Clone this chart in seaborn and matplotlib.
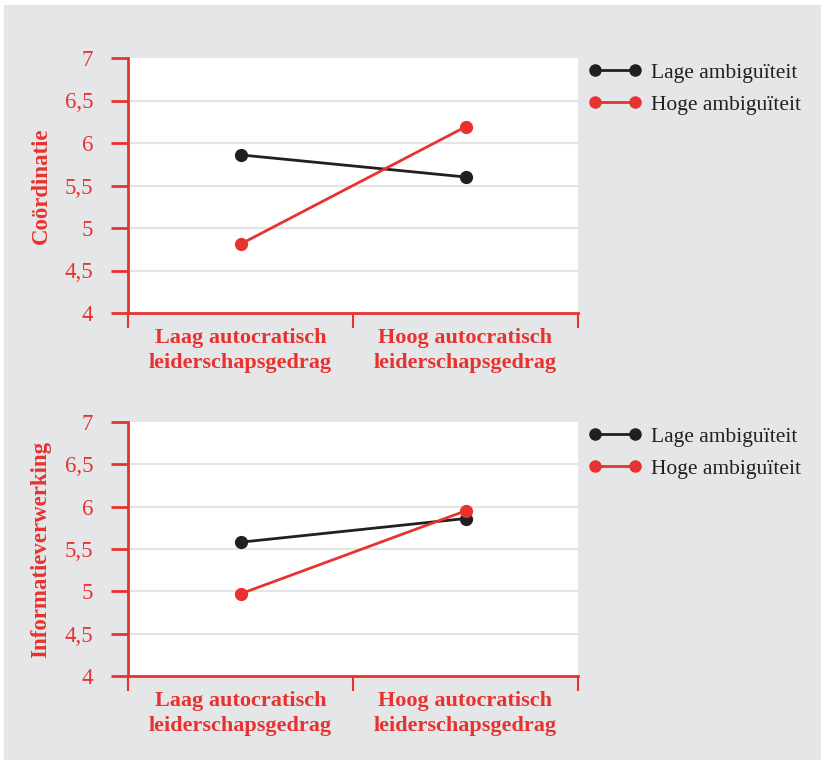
import pandas as pd
import matplotlib.pyplot as plt
import seaborn as sns
from matplotlib.lines import Line2D
from matplotlib.patches import Rectangle

# data
conditions = ["Laag autocratisch\nleiderschapsgedrag", "Hoog autocratisch\nleiderschapsgedrag"]
groups = ["Lage ambiguïteit", "Hoge ambiguïteit"]
coordinatie_lage = [5.86, 5.60]
coordinatie_hoge = [4.81, 6.19]
informatie_lage = [5.58, 5.86]
informatie_hoge = [4.97, 5.95]
y_ticks = [4, 4.5, 5, 5.5, 6, 6.5, 7]
y_ticklabels = ["4", "4,5", "5", "5,5", "6", "6,5", "7"]

RED = "#e8322f"
BLACK = "#231f20"
BG = "#e5e6e8"
GRID = "#e4e4e4"

sns.set_theme(style="white")
plt.rcParams["font.family"] = ["Liberation Serif", "DejaVu Serif"]


def make_df(lage, hoge):
    return pd.DataFrame({
        "conditie": conditions * 2,
        "score": lage + hoge,
        "groep": [groups[0]] * 2 + [groups[1]] * 2,
    })


def draw_panel(ax, df, ylabel):
    sns.pointplot(data=df, x="conditie", y="score", hue="groep",
                  order=conditions, hue_order=groups,
                  palette=[BLACK, RED], errorbar=None, dodge=False,
                  markers="o", markersize=8, linewidth=2, ax=ax)
    ax.set_facecolor("white")
    ax.set_xlim(-0.5, 1.5)
    ax.set_ylim(4, 7)
    ax.set_yticks(y_ticks)
    ax.set_yticklabels(y_ticklabels)
    for y in y_ticks[1:-1]:
        ax.axhline(y, color=GRID, lw=1.5, zorder=0)

    for side in ["top", "right"]:
        ax.spines[side].set_visible(False)
    for side in ["left", "bottom"]:
        ax.spines[side].set_color(RED)
        ax.spines[side].set_linewidth(2)

    # category labels at the points, tick marks at the borders
    ax.set_xticks([-0.5, 0.5, 1.5], minor=True)
    ax.tick_params(axis="x", which="minor", length=11, width=1.5, color=RED,
                   direction="out", bottom=True)
    ax.tick_params(axis="x", which="major", length=0, pad=11,
                   labelcolor=RED, labelsize=16)
    for lbl in ax.get_xticklabels():
        lbl.set_fontweight("bold")
        lbl.set_linespacing(1.3)
    ax.tick_params(axis="y", length=12, width=2, color=RED, direction="out",
                   left=True, pad=13, labelcolor=RED, labelsize=16.5)

    ax.set_xlabel("")
    ax.set_ylabel(ylabel, color=RED, fontsize=16.5, fontweight="bold")
    ax.yaxis.set_label_coords(-0.17, 0.5)

    if ax.get_legend() is not None:
        ax.get_legend().remove()
    handles = [Line2D([0], [0], color=c, lw=2, marker="o", markersize=8)
               for c in (BLACK, RED)]
    ax.legend(handles, groups, loc="upper left", bbox_to_anchor=(0.99, 1.04),
              frameon=False, numpoints=2, handlelength=2.45,
              handletextpad=0.45, labelspacing=0.55, borderaxespad=0.3,
              fontsize=15.5, labelcolor=BLACK)


fig = plt.figure(figsize=(8.21, 7.60), dpi=100)
fig.patch.set_facecolor("white")
fig.patches.append(Rectangle((4 / 821, 0), 1, 1 - 5 / 760,
                             transform=fig.transFigure, color=BG, zorder=-10))

ax1 = fig.add_axes([128 / 821, 1 - 313 / 760, 450 / 821, 255 / 760])
ax2 = fig.add_axes([128 / 821, 1 - 676 / 760, 450 / 821, 254 / 760])

draw_panel(ax1, make_df(coordinatie_lage, coordinatie_hoge), "Coördinatie")
draw_panel(ax2, make_df(informatie_lage, informatie_hoge), "Informatieverwerking")

fig.savefig("out.png", dpi=100)
